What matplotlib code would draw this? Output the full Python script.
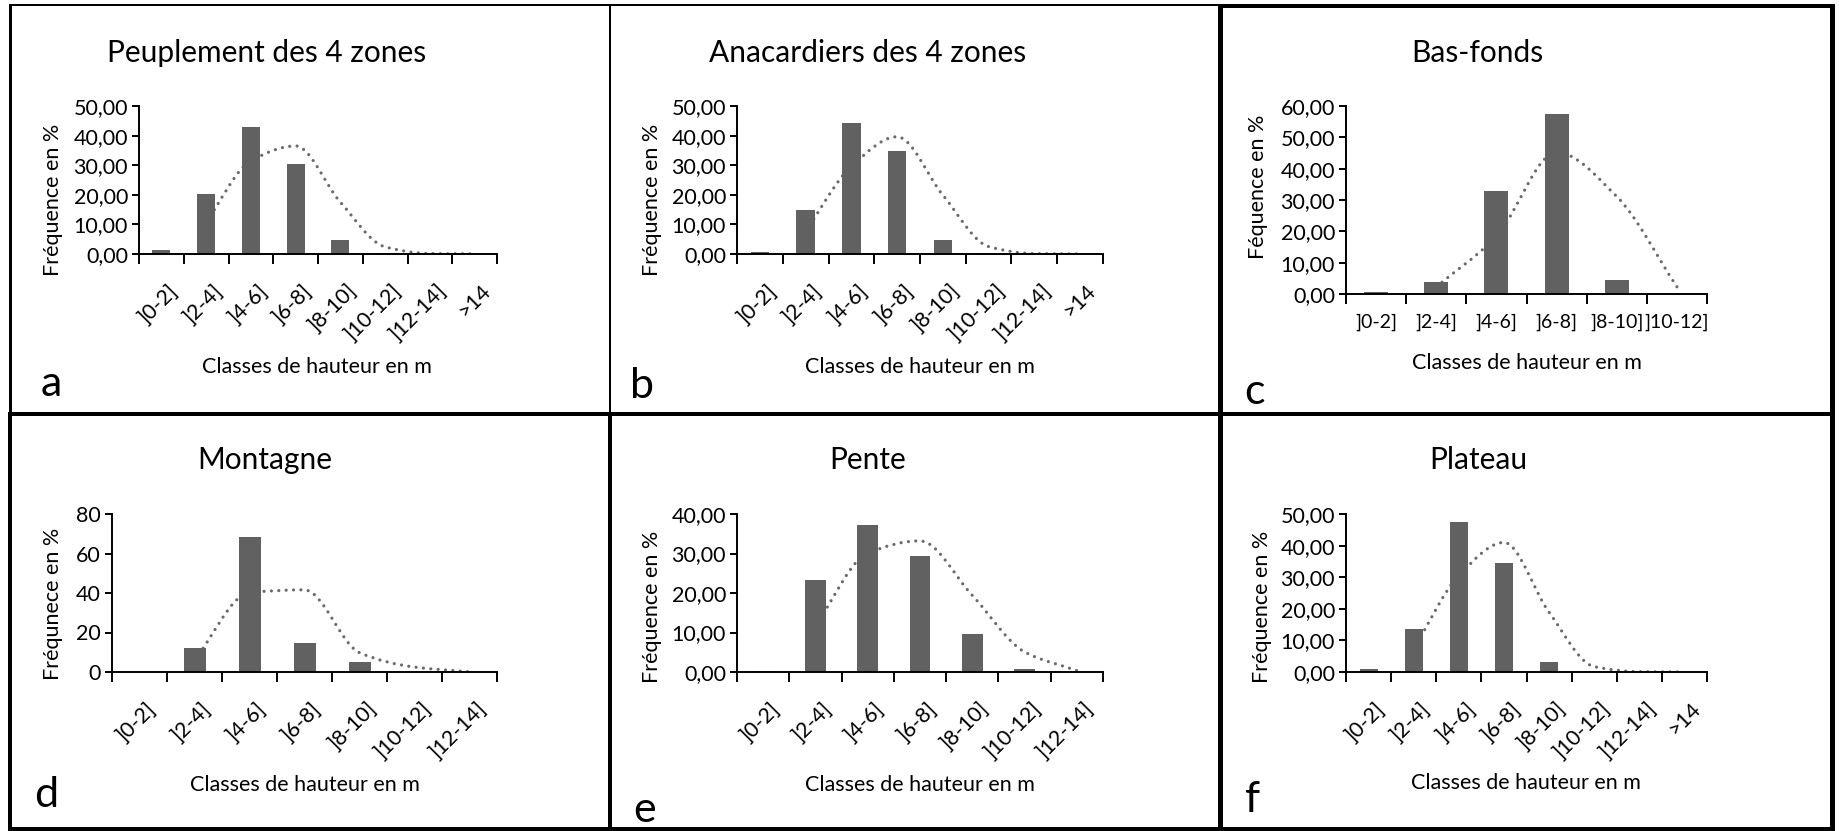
import numpy as np
import matplotlib
matplotlib.use("Agg")
import matplotlib.pyplot as plt
import matplotlib.transforms as mtransforms
from matplotlib.path import Path
from matplotlib.patches import PathPatch
from matplotlib.lines import Line2D

W, H = 1839, 831
plt.rcParams['font.family'] = ['Lato', 'DejaVu Sans']

# height classes
classes_8 = [']0-2]', ']2-4]', ']4-6]', ']6-8]', ']8-10]', ']10-12]', ']12-14]', '>14']
classes_7 = classes_8[:7]
classes_6 = classes_8[:6]

# bar values (%)
peuplement = [1.4, 20.2, 42.8, 30.3, 4.6, 0.2, 0.05, 0.0]
anacardiers = [0.7, 14.7, 44.4, 34.9, 4.8, 0.2, 0.05, 0.0]
bas_fonds = [0.6, 3.9, 32.8, 57.6, 4.6, 0.0]
montagne = [0.0, 12.1, 68.4, 14.8, 4.9, 0.2, 0.0]
pente = [0.2, 23.2, 37.1, 29.3, 9.5, 0.7, 0.0]
plateau = [0.9, 13.6, 47.4, 34.6, 3.2, 0.2, 0.02, 0.0]

# dotted trend line values (from the 2nd class on)
trend_peuplement = [10.8, 31.5, 36.5, 17.5, 2.4, 0.15, 0.05]
trend_anacardiers = [7.7, 29.6, 39.6, 19.9, 2.5, 0.12, 0.03]
trend_bas_fonds = [2.3, 18.4, 45.2, 31.1, 2.3]
trend_montagne = [6.0, 40.2, 41.6, 9.8, 2.5, 0.1]
trend_pente = [11.7, 30.1, 33.2, 19.4, 5.1, 0.35]
trend_plateau = [7.3, 30.5, 41.0, 18.9, 1.7, 0.1, 0.0]

BAR = '#616161'
LINE = '#6a6a6a'
TICK_FS = 15.5
LAB_FS = 15.5


def smooth_path(x, y):
    # smooth bezier through the points, tangents kept monotone (no overshoot)
    x = np.asarray(x, float)
    y = np.asarray(y, float)
    n = len(x)
    d = np.diff(y) / np.diff(x)
    m = np.zeros(n)
    m[0], m[-1] = d[0], d[-1]
    for i in range(1, n - 1):
        if d[i - 1] * d[i] > 0:
            m[i] = 2 / (1 / d[i - 1] + 1 / d[i])
    verts = [(x[0], y[0])]
    codes = [Path.MOVETO]
    for i in range(n - 1):
        h = (x[i + 1] - x[i]) / 3
        verts += [(x[i] + h, y[i] + m[i] * h),
                  (x[i + 1] - h, y[i + 1] - m[i + 1] * h),
                  (x[i + 1], y[i + 1])]
        codes += [Path.CURVE4] * 3
    return Path(verts, codes)


def px(x, y):
    return x / W, 1 - y / H


fig = plt.figure(figsize=(W / 100, H / 100), dpi=100)


def panel(box, classes, values, trend, ymax, ystep, decimals, rotate,
          title, ylabel, letter, title_xy, ylab_xy, xlab_xy, letter_xy):
    x0, y0, x1, y1 = box
    ax = fig.add_axes([x0 / W, 1 - y1 / H, (x1 - x0) / W, (y1 - y0) / H])
    n = len(classes)
    x = np.arange(n)
    ax.bar(x, values, width=0.4, color=BAR, zorder=2)
    ax.add_patch(PathPatch(smooth_path(x[1:1 + len(trend)], trend), fill=False,
                           ec=LINE, lw=2.3, ls=(0, (0.01, 2.3)),
                           capstyle='round', zorder=1))
    ax.set_xlim(-0.5, n - 0.5)
    ax.set_ylim(0, ymax)
    for s in ['top', 'right']:
        ax.spines[s].set_visible(False)
    for s in ['left', 'bottom']:
        ax.spines[s].set_linewidth(1.4)
    ax.set_xticks(np.arange(n + 1) - 0.5)
    ax.set_xticklabels([])
    ax.set_xticks(x, minor=True)
    ax.tick_params(axis='x', which='major', length=7, width=1.4, direction='out')
    yt = np.arange(0, ymax + 0.1, ystep)
    ax.set_yticks(yt)
    if decimals:
        ax.set_yticklabels([f'{v:.2f}'.replace('.', ',') for v in yt])
    else:
        ax.set_yticklabels([f'{v:.0f}' for v in yt])
    ax.tick_params(axis='y', length=5, width=1.4, pad=3, labelsize=TICK_FS)
    if rotate:
        ax.set_xticklabels(classes, minor=True, rotation=45, ha='right',
                           va='top', rotation_mode='anchor', fontsize=TICK_FS)
        ax.tick_params(axis='x', which='minor', length=0, pad=19)
        shift = mtransforms.ScaledTranslation(6 / 100, 0, fig.dpi_scale_trans)
        for lab in ax.get_xticklabels(minor=True):
            lab.set_transform(lab.get_transform() + shift)
    else:
        ax.set_xticklabels(classes, minor=True, fontsize=14)
        ax.tick_params(axis='x', which='minor', length=0, pad=14)
    ax.patch.set_alpha(0)

    fig.text(*px(*title_xy), title, ha='center', va='center', fontsize=21.5)
    fig.text(*px(*ylab_xy), ylabel, ha='center', va='center', rotation=90, fontsize=LAB_FS)
    fig.text(*px(*xlab_xy), 'Classes de hauteur en m', ha='center', va='center', fontsize=LAB_FS)
    fig.text(*px(*letter_xy), letter, ha='center', va='center', fontsize=31)
    return ax


panel((139, 106, 497, 254), classes_8, peuplement, trend_peuplement, 50, 10, True, True,
      'Peuplement des 4 zones', 'Fréquence en %', 'a',
      (267, 53), (53, 200), (317, 367), (51, 384))
panel((737, 106, 1103, 254), classes_8, anacardiers, trend_anacardiers, 50, 10, True, True,
      'Anacardiers des 4 zones', 'Fréquence en %', 'b',
      (868, 53), (652, 200), (920, 367), (642, 386))
panel((1346, 106, 1707, 294), classes_6, bas_fonds, trend_bas_fonds, 60, 10, True, False,
      'Bas-fonds', 'Féquence en %', 'c',
      (1477, 53), (1258, 187), (1527, 363), (1254, 392))
panel((112, 514, 497, 672), classes_7, montagne, trend_montagne, 80, 20, False, True,
      'Montagne', 'Fréqunece en %', 'd',
      (265, 460), (53, 604), (305, 785), (46, 795))
panel((737, 514, 1103, 672), classes_7, pente, trend_pente, 40, 10, True, True,
      'Pente', 'Fréquence en %', 'e',
      (868, 460), (652, 607), (920, 785), (645, 810))
panel((1346, 514, 1707, 672), classes_8, plateau, trend_plateau, 50, 10, True, True,
      'Plateau', 'Fréquence en %', 'f',
      (1478, 460), (1262, 607), (1526, 783), (1252, 800))


def frame(xa, ya, xb, yb, w):
    fig.add_artist(Line2D([xa / W, xb / W], [1 - ya / H, 1 - yb / H],
                          transform=fig.transFigure, color='black',
                          lw=w * 0.72, solid_capstyle='projecting'))


# panel borders (pixel coordinates)
frame(10, 5, 1220, 5, 2)
frame(1220, 6, 1832, 6, 4)
frame(10, 5, 10, 414, 3)
frame(10, 414, 10, 829, 4)
frame(10, 414, 1832, 414, 4)
frame(610, 5, 610, 414, 2)
frame(610, 414, 610, 829, 4)
frame(1220, 6, 1220, 829, 5)
frame(1832, 6, 1832, 829, 5)
frame(10, 829, 1832, 829, 4)

fig.savefig('out.png', dpi=100)
